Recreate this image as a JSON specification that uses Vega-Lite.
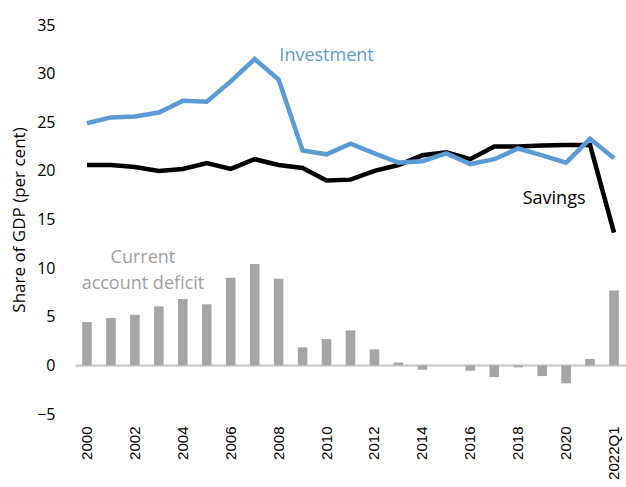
{
  "$schema": "https://vega.github.io/schema/vega-lite/v6.json",
  "width": 551,
  "height": 389,
  "autosize": "none",
  "padding": {"left": 75, "top": 25, "right": 0, "bottom": 73},
  "background": "white",
  "config": {"view": {"stroke": null}, "font": "Open Sans"},
  "data": {"values": [
    {"period": "2000", "investment": 24.9, "savings": 20.6, "cad": 4.45},
    {"period": "2001", "investment": 25.5, "savings": 20.6, "cad": 4.87},
    {"period": "2002", "investment": 25.6, "savings": 20.4, "cad": 5.2},
    {"period": "2003", "investment": 26.0, "savings": 20.0, "cad": 6.07},
    {"period": "2004", "investment": 27.2, "savings": 20.2, "cad": 6.82},
    {"period": "2005", "investment": 27.1, "savings": 20.8, "cad": 6.28},
    {"period": "2006", "investment": 29.2, "savings": 20.2, "cad": 9.02},
    {"period": "2007", "investment": 31.5, "savings": 21.2, "cad": 10.42},
    {"period": "2008", "investment": 29.4, "savings": 20.6, "cad": 8.92},
    {"period": "2009", "investment": 22.1, "savings": 20.3, "cad": 1.85},
    {"period": "2010", "investment": 21.7, "savings": 19.0, "cad": 2.7},
    {"period": "2011", "investment": 22.8, "savings": 19.1, "cad": 3.6},
    {"period": "2012", "investment": 21.8, "savings": 20.0, "cad": 1.65},
    {"period": "2013", "investment": 20.85, "savings": 20.6, "cad": 0.3},
    {"period": "2014", "investment": 21.0, "savings": 21.6, "cad": -0.45},
    {"period": "2015", "investment": 21.8, "savings": 21.9, "cad": 0.0},
    {"period": "2016", "investment": 20.7, "savings": 21.2, "cad": -0.55},
    {"period": "2017", "investment": 21.2, "savings": 22.5, "cad": -1.2},
    {"period": "2018", "investment": 22.3, "savings": 22.5, "cad": -0.2},
    {"period": "2019", "investment": 21.6, "savings": 22.6, "cad": -1.1},
    {"period": "2020", "investment": 20.85, "savings": 22.65, "cad": -1.85},
    {"period": "2021", "investment": 23.3, "savings": 22.65, "cad": 0.65},
    {"period": "2022Q1", "investment": 21.3, "savings": 13.65, "cad": 7.7}
  ]},
  "layer": [
    {
      "mark": {"type": "bar", "color": "#A5A5A5"},
      "encoding": {
        "x": {
          "field": "period", "type": "nominal", "sort": null,
          "scale": {"paddingInner": 0.6, "paddingOuter": 0.3},
          "axis": {
            "title": null, "domain": false, "ticks": false, "labelAngle": -90,
            "labelPadding": 12, "labelFont": "Liberation Sans", "labelFontSize": 15,
            "labelColor": "#000000",
            "values": ["2000","2002","2004","2006","2008","2010","2012","2014","2016","2018","2020","2022Q1"]
          }
        },
        "y": {
          "field": "cad", "type": "quantitative",
          "scale": {"domain": [-5, 35], "nice": false},
          "axis": {
            "title": "Share of GDP (per cent)", "titleFontSize": 17, "titleFontWeight": "normal",
            "titleColor": "#000000", "titlePadding": 8,
            "values": [-5, 0, 5, 10, 15, 20, 25, 30, 35],
            "domain": false, "ticks": false,
            "grid": true, "gridColor": "#D0D0D0", "gridWidth": 2.5,
            "gridOpacity": {"condition": {"test": "datum.value === 0", "value": 1}, "value": 0},
            "labelPadding": 20, "labelFontSize": 16, "labelColor": "#000000"
          }
        }
      }
    },
    {
      "mark": {"type": "line", "color": "#000000", "strokeWidth": 4.5},
      "encoding": {"x": {"field": "period", "type": "nominal", "sort": null}, "y": {"field": "savings", "type": "quantitative"}}
    },
    {
      "mark": {"type": "line", "color": "#5B9BD5", "strokeWidth": 4.5},
      "encoding": {"x": {"field": "period", "type": "nominal", "sort": null}, "y": {"field": "investment", "type": "quantitative"}}
    },
    {
      "data": {"values": [{}]},
      "mark": {"type": "text", "text": "Investment", "fill": "#5B9BD5", "fontWeight": "normal", "fontSize": 18, "align": "center", "baseline": "middle"},
      "encoding": {"x": {"datum": "2010"}, "y": {"datum": 31.8}}
    },
    {
      "data": {"values": [{}]},
      "mark": {"type": "text", "text": "Savings", "fill": "#000000", "fontWeight": "normal", "fontSize": 18, "align": "center", "baseline": "middle", "dx": -12},
      "encoding": {"x": {"datum": "2020"}, "y": {"datum": 17.1}}
    },
    {
      "data": {"values": [{}]},
      "mark": {"type": "text", "text": ["Current", "account deficit"], "fill": "#A0A0A0", "fontWeight": "normal", "fontSize": 18, "align": "center", "baseline": "middle", "lineHeight": 26, "dx": 8},
      "encoding": {"x": {"datum": "2002"}, "y": {"datum": 11.0}}
    }
  ]
}
